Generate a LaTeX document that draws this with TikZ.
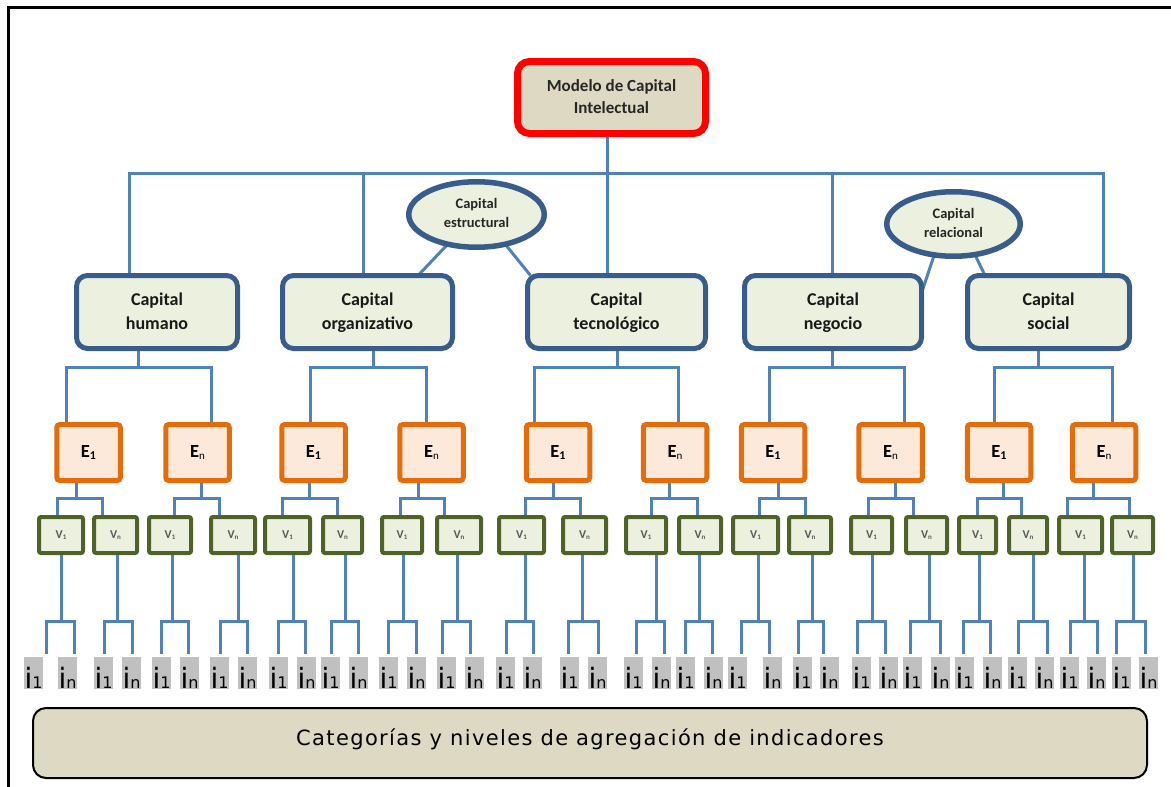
\documentclass[tikz,border=0pt]{standalone}
\usepackage{fontspec}
\setmainfont{Carlito}
\newfontfamily\vfont{DejaVu Sans}
\newfontfamily\vfontw{DejaVu Sans}[LetterSpace=6.5]
\usetikzlibrary{shapes.geometric}
\pgfdeclarelayer{bg}
\pgfsetlayers{bg,main}
\definecolor{connc}{HTML}{4F81BD}
\definecolor{capb}{HTML}{385D8A}
\definecolor{capf}{HTML}{EBF1DE}
\definecolor{tanf}{HTML}{DDD9C3}
\definecolor{eb}{HTML}{E46C0A}
\definecolor{ef}{HTML}{FDE9D9}
\definecolor{vb}{HTML}{4F6228}
\definecolor{ig}{HTML}{C0C0C0}
\newcommand{\lstA}{\rule[-4pt]{0pt}{18pt}}
\newcommand{\lstT}{\rule[-3pt]{0pt}{16pt}}
\newcommand{\lstE}{\rule[-4pt]{0pt}{12pt}}
\newcommand{\lstR}{\rule[-3pt]{0pt}{14pt}}
\newcommand{\isub}[1]{{\fontsize{16}{16}\selectfont #1}}
\begin{document}
\begin{tikzpicture}[x=1pt,y=-1pt,
  conn/.style={draw=connc, line width=3pt},
  capbox/.style={draw=capb, fill=capf, line width=5pt, rounded corners=11pt,
    inner sep=0pt, outer sep=0pt, minimum height=73pt, align=center,
    font={\fontsize{18}{24}\selectfont\bfseries}, text=black!90},
  topbox/.style={draw=red, fill=tanf, line width=7pt, rounded corners=12pt,
    inner sep=0pt, outer sep=0pt, minimum width=188pt, minimum height=72pt, align=center,
    font={\fontsize{17}{22}\selectfont\bfseries}, text=black!85},
  ellbox/.style={ellipse, draw=capb, fill=capf, line width=5.5pt, inner sep=0pt,
    outer sep=0pt, align=center, font={\fontsize{14.5}{19}\selectfont\bfseries}, text=black!85},
  ebox/.style={draw=eb, fill=ef, line width=5pt, rounded corners=3pt, inner sep=0pt,
    outer sep=0pt, minimum width=63.5pt, minimum height=56pt,
    font={\fontsize{18.5}{18.5}\selectfont\bfseries}},
  vbox/.style={draw=vb, fill=capf, line width=4pt, rounded corners=2pt, inner sep=0pt,
    outer sep=0pt, minimum height=36pt, font={\fontsize{12}{12}\selectfont\bfseries}, text=black!65},
  ibox/.style={fill=ig, inner sep=0pt, outer sep=0pt, anchor=south, minimum width=19pt,
    minimum height=32pt, text height=31pt, text depth=1pt,
    font={\vfont\fontsize{28}{28}\selectfont}},
  catbox/.style={draw=black, line width=2pt, fill=tanf, rounded corners=13pt,
    inner sep=0pt, minimum width=1114pt, minimum height=70pt,
    text height=13pt, text depth=9pt, font={\vfontw\fontsize{21}{24}\selectfont}}
]
\useasboundingbox (0,0) rectangle (1171,787);
\draw[line width=3pt] (8.5,800) -- (8.5,7.5) -- (1190,7.5);

% top
\node[topbox] (top) at (611.5,97.5) {\lstT Modelo de Capital\\\lstT Intelectual};

% level 2
\node[capbox, minimum width=161pt] (hum) at (157,312) {\lstA Capital\\\lstA humano};
\node[capbox, minimum width=170pt] (org) at (367.5,312) {\lstA Capital\\\lstA organizativo};
\node[capbox, minimum width=178pt] (tec) at (616.5,312) {\lstA Capital\\\lstA tecnológico};
\node[capbox, minimum width=177pt] (neg) at (833,312) {\lstA Capital\\\lstA negocio};
\node[capbox, minimum width=162pt] (soc) at (1048.5,312) {\lstA Capital\\\lstA social};

% ellipses
\node[ellbox, minimum width=135.5pt, minimum height=65.5pt] (est) at (476.5,214.5) {\lstE Capital\\\lstE estructural};
\node[ellbox, minimum width=133.5pt, minimum height=64.5pt] (rel) at (953.5,224) {\lstR Capital\\\lstR relacional};

% E boxes
\foreach \k/\cx in {1/88.5,2/197.5,3/313.5,4/431.5,5/558,6/675,7/773,8/890.5,9/999,10/1104}{
  \node[ebox] (e\k) at (\cx,452.5) {\ifodd\k\relax E{\fontsize{12}{12}\selectfont\raisebox{-2pt}{1}}\else E{\mdseries\fontsize{11}{11}\selectfont\raisebox{-1.5pt}{n}}\fi};
}

% V boxes
\foreach \k/\cx/\w in {1/61/48,2/115.5/47,3/170/46,4/233/48,5/287.5/49,6/342.5/43,7/402/44,8/459/48,9/521.5/49,10/584.5/47,11/646/44,12/700/46,13/755.5/49,14/810/46,15/871.5/45,16/926.5/45,17/977.5/41,18/1028/42,19/1080.5/47,20/1132.5/45}{
  \node[vbox, minimum width={\w pt-4pt}] (v\k) at (\cx,535) {\ifodd\k\relax V{\fontsize{7}{7}\selectfont\raisebox{-1pt}{1}}\else V{\fontsize{7}{7}\selectfont\raisebox{-1pt}{n}}\fi};
}

% i labels
\foreach \k/\a/\b in {1/33.5/67.5,2/103.5/131.5,3/161.5/189.5,4/219.5/247.5,5/278.5/306.5,6/330.5/358.5,7/388.5/416.5,8/446.5/474.5,9/505.5/532.5,10/569.5/597.5,11/633.5/661.5,12/685.5/713.5,13/737.5/772.5,14/802.5/829.5,15/861.5/888.5,16/912.5/940.5,17/964.5/992.5,18/1017.5/1044.5,19/1069.5/1096.5,20/1121.5/1148.5}{
  \node[ibox] (ia\k) at (\a,689) {i\isub{1}};
  \node[ibox] (ib\k) at (\b,689) {i\isub{n}};
}

% bottom box
\node[catbox] (cat) at (590,743) {Categorías y niveles de agregación de indicadores};

\begin{pgfonlayer}{bg}
\draw[conn] ([xshift=-4.5pt]top.south) -- ([xshift=-9.5pt]tec.north);
\draw[conn] ([xshift=-28pt]hum.north) -- ++(0,-102.5) -| ([xshift=54.5pt]soc.north);
\draw[conn] ([xshift=-4.5pt]org.north) -- ++(0,-102.5);
\draw[conn] ([xshift=-1pt]neg.north) -- ++(0,-102.5);
\draw[conn] (est.226) -- ([xshift=50.5pt]org.north);
\draw[conn] (est.314) -- ([xshift=3pt]tec.north west);
\draw[conn] (rel.238) -- ([yshift=19pt]neg.east);
\draw[conn] (rel.305) -- ([xshift=-63.5pt]soc.north);

\foreach \p/\s/\ea/\da/\eb/\db in {hum/-19/e1/-22.5/e2/13.5, org/5.5/e3/-3.5/e4/-5.5, tec/0.5/e5/-24/e6/3, neg/-1/e7/-4/e8/13.5, soc/-10.5/e9/-5/e10/8}{
  \draw[conn] ([xshift=\s pt]\p.south) -- ++(0,18.5) -| ([xshift=\da pt]\ea.north)
              ([xshift=\s pt]\p.south) ++(0,18.5) -| ([xshift=\db pt]\eb.north);
}

\foreach \e/\s/\va/\da/\vb/\db in {e1/-12.5/v1/-4/v2/-13.5, e2/3.5/v3/4/v4/-14, e3/-4.5/v5/-5.5/v6/-5.5, e4/-13.5/v7/-2/v8/-15, e5/-5/v9/3.5/v10/-4.5, e6/-6/v11/5/v12/-3, e7/5/v13/3.5/v14/-5, e8/4.5/v15/-3.5/v16/-13.5, e9/4/v17/-0.5/v18/-7, e10/-11/v19/-13.5/v20/-3.5}{
  \draw[conn] ([xshift=\s pt]\e.south) -- ++(0,18) -| ([xshift=\da pt]\va.north)
              ([xshift=\s pt]\e.south) ++(0,18) -| ([xshift=\db pt]\vb.north);
}

\foreach \k/\s/\da/\db in {1/0/12.5/6.5,2/1.5/0.5/0.5,3/2/-0.5/-1.5,4/5/0.5/-0.5,5/5.5/-0.5/-1.5,6/2.5/0.5/-0.5,7/1/-0.5/-0.5,8/-2/-4.5/-4.5,9/3.5/0.5/0.5,10/-2.5/-1.5/0.5,11/10/2.5/2.5,12/-1/-0.5/-1.5,13/2.5/3.5/-3.5,14/2/-4.5/-6.5,15/0.5/-4.5/-3.5,16/2.5/-2.5/-0.5,17/1.5/-1.5/-2.5,18/5/0.5/2.5,19/3.5/0.5/0.5,20/0.5/-5.5/-3.5}{
  \draw[conn] ([xshift=\s pt]v\k.south) -- ++(0,68) -| ([xshift=\da pt,yshift=3pt]ia\k.north)
              ([xshift=\s pt]v\k.south) ++(0,68) -| ([xshift=\db pt,yshift=3pt]ib\k.north);
}
\end{pgfonlayer}
\end{tikzpicture}
\end{document}
